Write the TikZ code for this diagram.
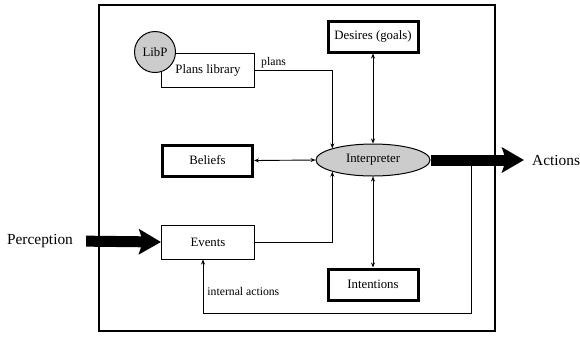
\documentclass[tikz,border=0pt]{standalone}
\usepackage{fontspec}
\setmainfont{Liberation Serif}
\usetikzlibrary{arrows.meta,shapes.geometric}

\begin{document}
\begin{tikzpicture}[x=1bp,y=-1bp,>={Stealth[length=5bp,width=4bp]},
    box/.style={draw,line width=1bp,minimum width=93bp,minimum height=34bp,
      inner sep=0pt,font=\fontsize{12.8bp}{15bp}\selectfont},
    thickbox/.style={box,line width=3bp,minimum width=90bp,minimum height=31bp},
    link/.style={line width=0.9bp},
    biglink/.style={line width=11bp,-{Stealth[length=22bp,width=25bp,inset=4bp]}},
    lbl/.style={font=\fontsize{11.7bp}{14bp}\selectfont,inner sep=2bp},
    outside/.style={font=\fontsize{15.4bp}{18bp}\selectfont,inner sep=0pt}]
    \useasboundingbox (0,0) rectangle (580,336);
    % agent frame
    \draw[line width=1.3bp] (99,5) rectangle (495,331);
    % components
    \node[box] (plans) at (208,70.5) {Plans library};
    \node[circle,draw,fill=gray!40,line width=1bp,minimum size=41bp,inner sep=0pt,
      font=\fontsize{12.8bp}{15bp}\selectfont] (libp) at (155,52) {LibP};
    \node[thickbox] (desires) at (373,36.5) {Desires (goals)};
    \node[thickbox] (beliefs) at (207.5,160.5) {Beliefs};
    \node[ellipse,draw,fill=gray!40,line width=1bp,minimum width=114bp,minimum height=32bp,
      inner sep=0pt,font=\fontsize{12.8bp}{15bp}\selectfont] (interp) at (373,160) {Interpreter};
    \node[box] (events) at (208,242) {Events};
    \node[thickbox] (intentions) at (373,284.5) {Intentions};
    \node[outside,anchor=west] (actions) at (532,160) {Actions};
    \node[outside] (percep) at (40,241) {Perception};
    \coordinate (ret) at (471,160);
    % connectors
    \draw[link,->] (plans.east) -| node[lbl,pos=0.12,above] {plans} (interp.164);
    \draw[link,->] (events.east) -| (interp.196);
    \draw[link,<->] (desires.south) -- (interp.north);
    \draw[link,<->] (intentions.north) -- (interp.south);
    \draw[link,<->] (beliefs.east) -- (interp.west);
    \draw[link,->] (ret) -- ++(0,153) -| node[lbl,pos=0.7,right,inner sep=4bp] {internal actions}
      ([xshift=-5bp]events.south);
    \draw[biglink,shorten >=8bp] (interp.east) -- (actions.west);
    \draw[biglink,shorten <=13bp] (percep.east) -- (events.west);
  \end{tikzpicture}
\end{document}
